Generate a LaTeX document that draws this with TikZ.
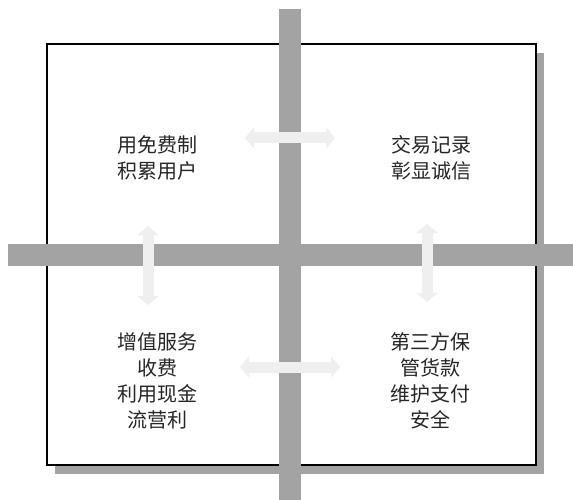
\documentclass[tikz,border=0pt]{standalone}
\usepackage{fontspec}
\newfontfamily\cjk{Noto Sans CJK SC}
\usetikzlibrary{arrows.meta}
\definecolor{bargray}{HTML}{A3A3A3}
\definecolor{arrgray}{HTML}{EFEFEF}
\tikzset{
  barfill/.style={fill=bargray,draw=none},
  quadtext/.style={align=center,font=\cjk\fontsize{20}{26}\selectfont,text=black!85},
  flowarrow/.style={draw=arrgray,line width=11pt,{Triangle[width=21pt,length=9pt]}-{Triangle[width=21pt,length=9pt]}}
}
\begin{document}
\begin{tikzpicture}[x=1pt,y=-1pt]
\useasboundingbox (0,0) rectangle (573,500);
\fill[white] (0,0) rectangle (573,500);
% shadow and box
\fill[bargray] (55,53) rectangle (544,474);
\draw[black,line width=1.6pt,fill=white] (47,44) rectangle (536,465);
% bars
\fill[barfill] (279,9) rectangle (301,500);
\fill[barfill] (8,244) rectangle (573,266);
% text
\node[quadtext] (tl) at (157,158) {用免费制\\积累用户};
\node[quadtext] (tr) at (431,158) {交易记录\\彰显诚信};
\node[quadtext] (bl) at (157,381) {增值服务\\收费\\利用现金\\流营利};
\node[quadtext] (br) at (430,381) {第三方保\\管货款\\维护支付\\安全};
% arrow end points
\coordinate (ta) at (245,138);
\coordinate (tb) at (335,138);
\coordinate (ba) at (240,367);
\coordinate (bb) at (340,367);
\coordinate (la) at (148,226);
\coordinate (lb) at (148,305);
\coordinate (ra) at (427,224);
\coordinate (rb) at (427,302);
\draw[flowarrow] (ta) -- (tb);
\draw[flowarrow] (ba) -- (bb);
\draw[flowarrow] (la) -- (lb);
\draw[flowarrow] (ra) -- (rb);
\end{tikzpicture}
\end{document}
